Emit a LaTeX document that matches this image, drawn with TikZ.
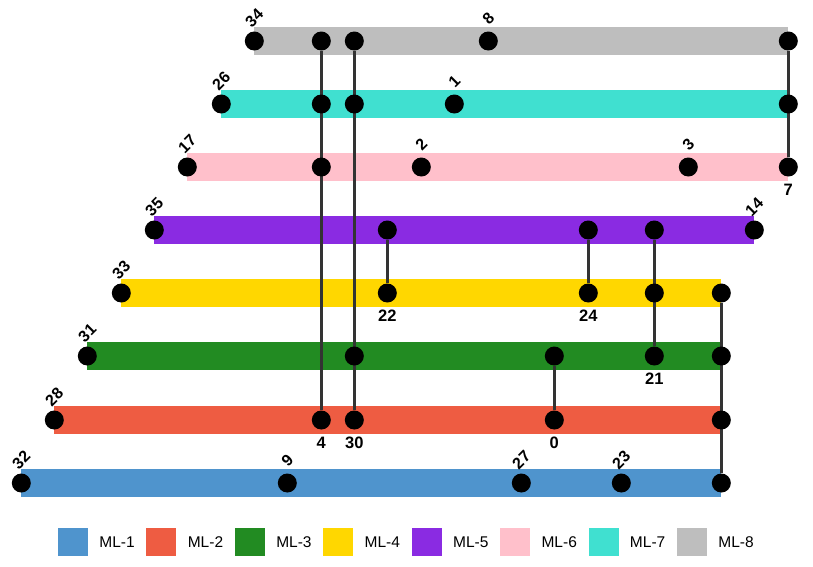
\documentclass[tikz,border=0pt]{standalone}
\usepackage{fontspec}
\setmainfont{Liberation Sans}
\usetikzlibrary{positioning,backgrounds}
\definecolor{mlone}{HTML}{4F94CD}
\definecolor{mltwo}{HTML}{EE5C42}
\definecolor{mlthree}{HTML}{228B22}
\definecolor{mlfour}{HTML}{FFD700}
\definecolor{mlfive}{HTML}{8A2BE2}
\definecolor{mlsix}{HTML}{FFC0CB}
\definecolor{mlseven}{HTML}{40E0D0}
\definecolor{mleight}{HTML}{BEBEBE}
\definecolor{linkgray}{HTML}{333333}
\tikzset{
  dot/.style={circle,fill=black,inner sep=0pt,minimum size=19pt},
  toplab/.style={rotate=45,inner sep=0pt,font=\fontsize{16}{16}\selectfont\bfseries},
  botlab/.style={inner sep=0pt,font=\fontsize{16.5}{16.5}\selectfont\bfseries},
  link/.style={line width=3pt,color=linkgray},
  legbox/.style={minimum width=30pt,minimum height=28pt,inner sep=0pt},
  legtext/.style={inner sep=0pt,font=\fontsize{15.5}{15.5}\selectfont}
}

\begin{document}
\begin{tikzpicture}[x=1pt,y=-1pt]
  \useasboundingbox (0,0) rectangle (813,566);

  % points with a rotated label above
  \foreach \n/\x/\y in {34/254.3/41,8/488.3/41,26/221.3/104,1/454.3/104,
      17/187.3/167,2/421.3/167,3/688.3/167,35/154.3/230,14/754.3/230,
      33/121.3/293,31/87.3/356,28/54.3/420,32/21.3/483,9/287.3/483,
      27/521.3/483,23/621.3/483} {
    \node[dot] (p\n) at (\x,\y) {};
    \node[toplab] (t\n) at (\x,\y-23) {\n};
  }

  % points with a label below
  \foreach \n/\x/\y in {7/788.3/167,22/387.3/293,24/588.3/293,21/654.3/356,
      4/321.3/420,30/354.3/420,0/554.3/420} {
    \node[dot] (p\n) at (\x,\y) {};
    \node[botlab,below=7pt of p\n] (b\n) {\n};
  }

  % points without label
  \foreach \n/\x/\y in {8a/321.3/41,8b/354.3/41,8c/788.3/41,
      7a/321.3/104,7b/354.3/104,7c/788.3/104,6a/321.3/167,
      5a/387.3/230,5b/588.3/230,5c/654.3/230,4a/654.3/293,4b/721.3/293,
      3a/354.3/356,3b/554.3/356,3c/721.3/356,2a/721.3/420,1a/721.3/483}
    \node[dot] (u\n) at (\x,\y) {};

  \begin{pgfonlayer}{background}
    % layer bars
    \foreach \y/\xa/\xb/\col in {41/254.3/788.3/mleight,104/221.3/788.3/mlseven,
        167/187.3/788.3/mlsix,230/154.3/754.3/mlfive,293/121.3/721.3/mlfour,
        356/87.3/721.3/mlthree,420/54.3/721.3/mltwo,483/21.3/721.3/mlone}
      \fill[\col] (\xa,\y-14) rectangle (\xb,\y+14);

    % vertical links
    \draw[link] (u8a) -- (p4);
    \draw[link] (u8b) -- (p30);
    \draw[link] (u8c) -- (p7);
    \draw[link] (u5a) -- (p22);
    \draw[link] (u5b) -- (p24);
    \draw[link] (u5c) -- (p21);
    \draw[link] (u3b) -- (p0);
    \draw[link] (u4b) -- (u1a);
  \end{pgfonlayer}

  % legend
  \foreach \i/\col in {1/mlone,2/mltwo,3/mlthree,4/mlfour,5/mlfive,6/mlsix,
      7/mlseven,8/mleight} {
    \node[legbox,fill=\col] (k\i) at ({73+88.43*(\i-1)},542) {};
    \node[legtext,right=11pt of k\i] (l\i) {ML-\i};
  }
\end{tikzpicture}
\end{document}
